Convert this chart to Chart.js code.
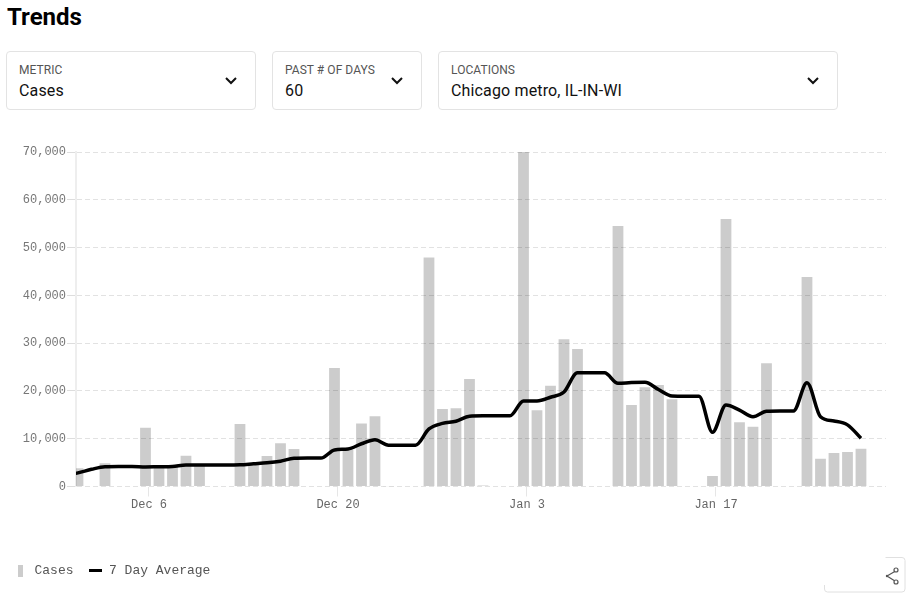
<!DOCTYPE html>
<html><head><meta charset="utf-8">
<script src="https://cdn.jsdelivr.net/npm/chart.js@4"></script>
<style>
html,body{margin:0;padding:0;background:#fff;width:917px;height:595px;overflow:hidden;font-family:Roboto,sans-serif}
h1{position:absolute;left:7px;top:3px;margin:0;font-size:24px;line-height:28px;font-weight:700;color:#000}
.sel{position:absolute;top:51px;height:57px;border:1px solid #e3e3e3;border-radius:4px;box-sizing:content-box}
.sel .l{position:absolute;left:12px;top:11px;font-size:12px;line-height:14px;color:#555;letter-spacing:.05px}
.sel .v{position:absolute;left:12px;top:29px;font-size:16px;line-height:20px;color:#111;letter-spacing:.15px}
.sel svg{position:absolute;top:24px;width:14px;height:9px}
#wrap{position:absolute;left:-1px;top:140px;width:918px;height:455px}
#share{position:absolute;left:820px;top:552px}
</style></head><body>
<h1>Trends</h1>
<div class="sel" style="left:6px;width:248px"><div class="l">METRIC</div><div class="v">Cases</div><svg style="left:217px" viewBox="0 0 14 9"><path d="M2 2l5 5 5-5" fill="none" stroke="#111" stroke-width="2"/></svg></div>
<div class="sel" style="left:272px;width:148px"><div class="l">PAST # OF DAYS</div><div class="v">60</div><svg style="left:117px" viewBox="0 0 14 9"><path d="M2 2l5 5 5-5" fill="none" stroke="#111" stroke-width="2"/></svg></div>
<div class="sel" style="left:438px;width:398px"><div class="l">LOCATIONS</div><div class="v">Chicago metro, IL-IN-WI</div><svg style="left:367px" viewBox="0 0 14 9"><path d="M2 2l5 5 5-5" fill="none" stroke="#111" stroke-width="2"/></svg></div>
<div id="wrap"><canvas id="c" width="918" height="455" style="display:block;width:918px;height:455px"></canvas></div>
<svg id="share" width="90" height="43" viewBox="0 0 90 43">
<path d="M65.5 5.5H82a3 3 0 0 1 3 3V37a3 3 0 0 1-3 3H7.5a3 3 0 0 1-3-3V33" fill="none" stroke="#e0e0e0"/>
<path d="M76.5 18.5L67 24l9.5 6" fill="none" stroke="#555" stroke-width="1.2"/>
<circle cx="76" cy="18" r="2" fill="#fff" stroke="#555" stroke-width="1.2"/><circle cx="76" cy="30" r="2" fill="#fff" stroke="#555" stroke-width="1.2"/><circle cx="67" cy="24" r="1.2" fill="#555"/>
</svg>
<script>
const days = ["Nov 30","Dec 1","Dec 2","Dec 3","Dec 4","Dec 5","Dec 6","Dec 7","Dec 8","Dec 9","Dec 10","Dec 11","Dec 12","Dec 13","Dec 14","Dec 15","Dec 16","Dec 17","Dec 18","Dec 19","Dec 20","Dec 21","Dec 22","Dec 23","Dec 24","Dec 25","Dec 26","Dec 27","Dec 28","Dec 29","Dec 30","Dec 31","Jan 1","Jan 2","Jan 3","Jan 4","Jan 5","Jan 6","Jan 7","Jan 8","Jan 9","Jan 10","Jan 11","Jan 12","Jan 13","Jan 14","Jan 15","Jan 16","Jan 17","Jan 18","Jan 19","Jan 20","Jan 21","Jan 22","Jan 23","Jan 24","Jan 25","Jan 26","Jan 27","Jan 28"];
const cases = [0,3800,0,4850,0,0,12300,4200,4300,6450,4500,0,0,13100,4800,6400,9050,7850,0,0,24800,7650,13200,14700,50,0,0,47900,16200,16400,22500,200,0,0,70000,15950,21100,30800,28800,0,0,54500,17050,20750,21250,18250,0,0,2200,56000,13450,12500,25800,0,0,43850,5800,7000,7200,7900];
const average = [2300,2850,3600,4150,4200,4200,4100,4150,4200,4500,4500,4500,4500,4550,4750,4950,5300,5900,5950,5950,7650,7850,8950,9800,8650,8650,8650,12050,13200,13650,14700,14800,14800,14800,17900,17900,18670,19780,23800,23800,23800,21600,21750,21800,20300,18950,18900,18900,11340,17050,16000,14600,15750,15800,15800,21700,14600,13700,12900,10100];
const shownTicks = ["Dec 6","Dec 20","Jan 3","Jan 17"];
const seriesNames = ["Cases","7 Day Average"];

const mono = '"Liberation Mono", monospace';
function swatch(w,h,col){const s=document.createElement('canvas');s.width=w;s.height=h;const g=s.getContext('2d');g.fillStyle=col;g.fillRect(0,0,w,h);return s;}
const shift = 0.26;
new Chart(document.getElementById('c'),{
  type:'bar',
  data:{datasets:[
    {type:'line',label:seriesNames[1],order:0,data:average.map((y,i)=>({x:i-shift,y})),borderColor:'#000',borderWidth:3.5,pointRadius:0,cubicInterpolationMode:'monotone',pointStyle:swatch(13,3,'#000'),backgroundColor:'#000'},
    {type:'bar',label:seriesNames[0],order:1,data:cases.map((y,i)=>({x:i-shift,y})),backgroundColor:'rgba(0,0,0,0.2)',categoryPercentage:0.8,barPercentage:1,pointStyle:swatch(5,12,'#ccc')}
  ]},
  options:{
    responsive:false,animation:false,
    layout:{padding:{left:0,right:31,top:12,bottom:8}},
    plugins:{
      tooltip:{enabled:false},
      legend:{position:'bottom',align:'start',
        labels:{usePointStyle:true,pointStyleWidth:15,boxHeight:13,padding:14,color:'#555',font:{family:mono,size:13},
          sort:(a,b)=>b.datasetIndex-a.datasetIndex}}
    },
    scales:{
      x:{type:'linear',offset:false,min:0.593,max:60.593,
        afterBuildTicks:s=>{s.ticks=shownTicks.map(t=>({value:days.indexOf(t)}));},
        afterFit:s=>{s.height=63.5;},
        grid:{offset:false,drawOnChartArea:false,color:'#e6e6e6',tickLength:10},
        border:{color:'rgba(0,0,0,0)'},
        ticks:{autoSkip:false,maxRotation:0,color:'#666',padding:1,font:{family:mono,size:12},callback:v=>days[v]}},
      y:{min:0,max:70000,
        afterFit:s=>{s.width=77;},
        grid:{color:'#e2e2e2',tickColor:'#dddddd',tickBorderDash:[],tickLength:9},
        border:{color:'#eeeeee',width:2,dash:[5,3]},
        ticks:{stepSize:10000,color:'#777',padding:1,font:{family:mono,size:12},callback:v=>v.toLocaleString('en-US')}}
    }
  }
});
</script>
</body></html>
